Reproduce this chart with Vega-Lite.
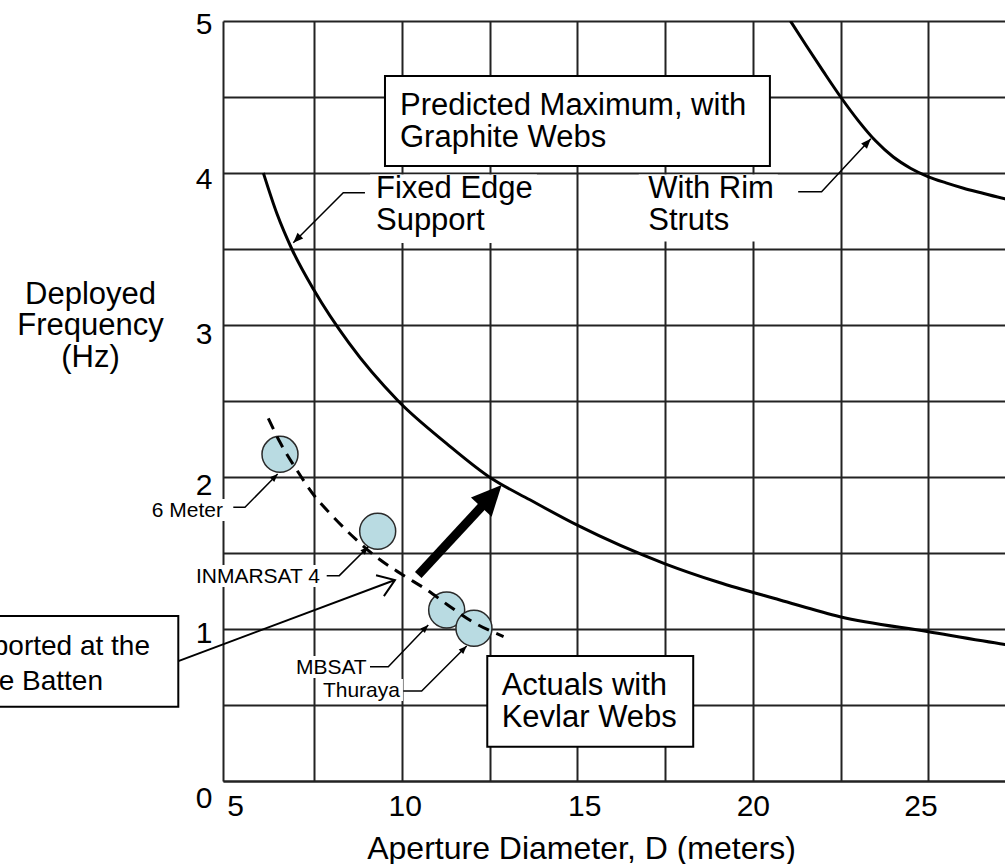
{
  "$schema": "https://vega.github.io/schema/vega-lite/v6.json",
  "width": 782,
  "height": 760,
  "autosize": "none",
  "padding": {"left": 223, "top": 21, "right": 0, "bottom": 83},
  "background": "white",
  "config": {"view": {"stroke": null}, "font": "Liberation Sans"},
  "encoding": {
    "x": {
      "field": "x", "type": "quantitative",
      "scale": {"domain": [4.91, 27.18], "nice": false, "zero": false},
      "axis": {
        "values": [5, 7.5, 10, 12.5, 15, 17.5, 20, 22.5, 25],
        "labelExpr": "datum.value % 5 === 0 ? '' + datum.value : ''",
        "grid": true, "gridColor": "#222222", "gridWidth": 2,
        "gridOpacity": {"condition": {"test": "datum.value === 5", "value": 0}, "value": 1},
        "domainColor": "#222222", "domainWidth": 2,
        "ticks": false, "tickSize": 0,
        "labelFont": "Liberation Sans", "labelFontSize": 30, "labelColor": "black",
        "labelBaseline": "alphabetic", "labelAlign": "center", "labelPadding": 34,
        "labelFlush": false, "labelOverlap": false,
        "labelOffset": {"condition": [
          {"test": "datum.value === 5", "value": 9},
          {"test": "datum.value === 10", "value": 3},
          {"test": "datum.value === 15", "value": 7},
          {"test": "datum.value === 25", "value": -8}
        ], "value": 0},
        "title": "Aperture Diameter, D (meters)",
        "titleFont": "Liberation Sans", "titleFontSize": 32, "titleFontWeight": "normal", "titleColor": "black",
        "titleX": 358, "titleY": 77, "titleBaseline": "alphabetic", "titleAlign": "center",
        "zindex": 0
      }
    },
    "y": {
      "field": "y", "type": "quantitative",
      "scale": {"domain": [0, 5], "nice": false, "zero": false},
      "axis": {
        "values": [0, 0.5, 1, 1.5, 2, 2.5, 3, 3.5, 4, 4.5, 5],
        "labelExpr": "datum.value % 1 === 0 ? '' + datum.value : ''",
        "grid": true, "gridColor": "#222222", "gridWidth": 2,
        "domainColor": "#222222", "domainWidth": 2,
        "ticks": false, "tickSize": 0,
        "labelFont": "Liberation Sans", "labelFontSize": 30, "labelColor": "black",
        "labelBaseline": "alphabetic", "labelAlign": "right", "labelPadding": 11,
        "labelFlush": false, "labelOverlap": false,
        "labelOffset": {"condition": [
          {"test": "datum.value === 0", "value": 26},
          {"test": "datum.value === 1", "value": 13},
          {"test": "datum.value === 2", "value": 17},
          {"test": "datum.value === 3", "value": 18},
          {"test": "datum.value === 4", "value": 15},
          {"test": "datum.value === 5", "value": 12}
        ], "value": 0},
        "title": ["Deployed", "Frequency", "(Hz)"],
        "titleFont": "Liberation Sans", "titleFontSize": 31, "titleFontWeight": "normal", "titleColor": "black",
        "titleAngle": 0, "titleAlign": "center", "titleBaseline": "alphabetic",
        "titleX": -133, "titleY": 282, "titleLineHeight": 31.5,
        "zindex": 0
      }
    }
  },
  "layer": [
    {
      "data": {"values": [
        {"x": 9.10, "x2": 13.85, "y": 3.99, "y2": 3.54},
        {"x": 16.75, "x2": 20.71, "y": 3.99, "y2": 3.55},
        {"x": 2.775, "x2": 4.995, "y": 1.855, "y2": 1.711},
        {"x": 4.0, "x2": 7.76, "y": 1.421, "y2": 1.276},
        {"x": 6.875, "x2": 9.067, "y": 0.822, "y2": 0.678},
        {"x": 7.67, "x2": 10.035, "y": 0.671, "y2": 0.526}
      ]},
      "mark": {"type": "rect", "fill": "white", "strokeWidth": 0},
      "encoding": {"x2": {"field": "x2"}, "y2": {"field": "y2"}}
    },
    {
      "data": {"values": [
        {"x": 9.523, "x2": 20.485, "y": 4.638, "y2": 4.046},
        {"x": 12.436, "x2": 18.301, "y": 0.822, "y2": 0.2257},
        {"x": -5, "x2": 3.637, "y": 1.0855, "y2": 0.4888}
      ]},
      "mark": {"type": "rect", "fill": "white", "stroke": "black", "strokeWidth": 2},
      "encoding": {"x2": {"field": "x2"}, "y2": {"field": "y2"}}
    },
    {
      "data": {"values": [
        {"c": "fixed", "x": 6.06, "y": 4.0},
        {"c": "fixed", "x": 6.45, "y": 3.73},
        {"c": "fixed", "x": 6.87, "y": 3.5},
        {"c": "fixed", "x": 7.5, "y": 3.23},
        {"c": "fixed", "x": 8.5, "y": 2.88},
        {"c": "fixed", "x": 9.9, "y": 2.5},
        {"c": "fixed", "x": 11.28, "y": 2.22},
        {"c": "fixed", "x": 12.56, "y": 1.99},
        {"c": "fixed", "x": 13.65, "y": 1.85},
        {"c": "fixed", "x": 15, "y": 1.683},
        {"c": "fixed", "x": 17.5, "y": 1.429},
        {"c": "fixed", "x": 19, "y": 1.309},
        {"c": "fixed", "x": 20.77, "y": 1.191},
        {"c": "fixed", "x": 22.48, "y": 1.081},
        {"c": "fixed", "x": 25, "y": 0.982},
        {"c": "fixed", "x": 27.18, "y": 0.898},
        {"c": "fixed", "x": 28, "y": 0.87},
        {"c": "rim", "x": 21.07, "y": 5.0},
        {"c": "rim", "x": 21.5, "y": 4.845},
        {"c": "rim", "x": 22.0, "y": 4.67},
        {"c": "rim", "x": 22.5, "y": 4.5},
        {"c": "rim", "x": 23.0, "y": 4.345},
        {"c": "rim", "x": 23.5, "y": 4.21},
        {"c": "rim", "x": 24.0, "y": 4.105},
        {"c": "rim", "x": 24.5, "y": 4.03},
        {"c": "rim", "x": 25.0, "y": 3.975},
        {"c": "rim", "x": 25.5, "y": 3.935},
        {"c": "rim", "x": 26.0, "y": 3.9},
        {"c": "rim", "x": 26.5, "y": 3.87},
        {"c": "rim", "x": 27.18, "y": 3.83},
        {"c": "rim", "x": 28, "y": 3.79}
      ]},
      "mark": {"type": "line", "color": "black", "strokeWidth": 3, "clip": true, "interpolate": "monotone"},
      "encoding": {"detail": {"field": "c"}}
    },
    {
      "data": {"values": [
        {"name": "6 Meter", "x": 6.533, "y": 2.149},
        {"name": "INMARSAT 4", "x": 9.315, "y": 1.643},
        {"name": "MBSAT", "x": 11.28, "y": 1.125},
        {"name": "Thuraya", "x": 12.057, "y": 1.005}
      ]},
      "mark": {"type": "point", "shape": "circle", "filled": true, "fill": "#b9dbe2", "stroke": "#2a2a2a", "strokeWidth": 1.5, "size": 1296, "opacity": 1}
    },
    {
      "data": {"values": [
        {"x": 6.20, "y": 2.386},
        {"x": 6.53, "y": 2.23},
        {"x": 7.0, "y": 2.05},
        {"x": 7.5, "y": 1.88},
        {"x": 8.0, "y": 1.75},
        {"x": 8.6, "y": 1.61},
        {"x": 9.3, "y": 1.47},
        {"x": 10.0, "y": 1.36},
        {"x": 10.7, "y": 1.26},
        {"x": 11.3, "y": 1.16},
        {"x": 12.0, "y": 1.05},
        {"x": 12.9, "y": 0.95}
      ]},
      "mark": {"type": "line", "color": "black", "strokeWidth": 3, "strokeDash": [12, 8], "interpolate": "monotone"},
      "encoding": {}
    },
    {
      "data": {"values": [
        {"x": 10.47, "y": 1.355},
        {"x": 12.458, "y": 1.851}
      ]},
      "mark": {"type": "line", "color": "black", "strokeWidth": 9, "strokeCap": "butt"},
      "encoding": {}
    },
    {
      "data": {"values": [{"x": 12.846, "y": 1.947}]},
      "mark": {"type": "point", "shape": "M0,0 L-1,-0.47 L-1,0.47 Z", "size": 3600, "angle": 312.8, "filled": true, "color": "black", "strokeWidth": 0, "opacity": 1}
    },
    {
      "data": {"values": [
        {"id": "fixed", "o": 1, "x": 8.953, "y": 3.870},
        {"id": "fixed", "o": 2, "x": 8.335, "y": 3.870},
        {"id": "fixed", "o": 3, "x": 6.912, "y": 3.541},
        {"id": "rim", "o": 1, "x": 21.29, "y": 3.877},
        {"id": "rim", "o": 2, "x": 21.957, "y": 3.877},
        {"id": "rim", "o": 3, "x": 23.36, "y": 4.225},
        {"id": "six", "o": 1, "x": 5.203, "y": 1.801},
        {"id": "six", "o": 2, "x": 5.536, "y": 1.801},
        {"id": "six", "o": 3, "x": 6.467, "y": 2.02},
        {"id": "inm", "o": 1, "x": 7.863, "y": 1.351},
        {"id": "inm", "o": 2, "x": 8.222, "y": 1.351},
        {"id": "inm", "o": 3, "x": 9.047, "y": 1.541},
        {"id": "mb", "o": 1, "x": 9.096, "y": 0.752},
        {"id": "mb", "o": 2, "x": 9.617, "y": 0.752},
        {"id": "mb", "o": 3, "x": 10.756, "y": 1.026},
        {"id": "th", "o": 1, "x": 10.044, "y": 0.592},
        {"id": "th", "o": 2, "x": 10.568, "y": 0.592},
        {"id": "th", "o": 3, "x": 11.849, "y": 0.888}
      ]},
      "mark": {"type": "line", "color": "black", "strokeWidth": 1.5},
      "encoding": {"detail": {"field": "id"}, "order": {"field": "o", "type": "quantitative"}}
    },
    {
      "data": {"values": [
        {"x": 3.637, "y": 0.789},
        {"x": 9.807, "y": 1.322}
      ]},
      "mark": {"type": "line", "color": "black", "strokeWidth": 2},
      "encoding": {}
    },
    {
      "data": {"values": [
        {"x": 6.467, "y": 2.02},
        {"x": 9.047, "y": 1.541},
        {"x": 10.756, "y": 1.026},
        {"x": 11.849, "y": 0.888}
      ]},
      "mark": {"type": "point", "shape": "M0,0 L-1,-0.4 L-1,0.4 Z", "size": 256, "angle": 315, "filled": true, "color": "black", "strokeWidth": 0, "opacity": 1}
    },
    {
      "data": {"values": [{"x": 6.912, "y": 3.541}]},
      "mark": {"type": "point", "shape": "M0,0 L-1,-0.4 L-1,0.4 Z", "size": 400, "angle": 135, "filled": true, "color": "black", "strokeWidth": 0, "opacity": 1}
    },
    {
      "data": {"values": [{"x": 23.36, "y": 4.225}]},
      "mark": {"type": "point", "shape": "M0,0 L-1,-0.4 L-1,0.4 Z", "size": 400, "angle": 313, "filled": true, "color": "black", "strokeWidth": 0, "opacity": 1}
    },
    {
      "data": {"values": [{"x": 9.807, "y": 1.322}]},
      "mark": {"type": "point", "shape": "M-1,-0.7 L0,0 L-1,0.7", "size": 1024, "angle": 339.5, "filled": false, "stroke": "black", "strokeWidth": 2, "opacity": 1}
    },
    {
      "data": {"values": [
        {"t": "Predicted Maximum, with\nGraphite Webs", "x": 9.95, "y": 4.382},
        {"t": "Fixed Edge\nSupport", "x": 9.266, "y": 3.838},
        {"t": "With Rim\nStruts", "x": 17.02, "y": 3.836},
        {"t": "Actuals with\nKevlar Webs", "x": 12.846, "y": 0.566}
      ]},
      "mark": {"type": "text", "align": "left", "baseline": "alphabetic", "font": "Liberation Sans", "fontSize": 31, "lineHeight": 32, "lineBreak": "\n", "color": "black"},
      "encoding": {"text": {"field": "t"}}
    },
    {
      "data": {"values": [
        {"t": "Supported at the", "x": 2.831, "y": 0.829},
        {"t": "Base Batten", "x": 1.493, "y": 0.599}
      ]},
      "mark": {"type": "text", "align": "right", "baseline": "alphabetic", "font": "Liberation Sans", "fontSize": 28, "color": "black"},
      "encoding": {"text": {"field": "t"}}
    },
    {
      "data": {"values": [
        {"t": "6 Meter", "x": 4.91, "y": 1.739},
        {"t": "INMARSAT 4", "x": 7.672, "y": 1.30},
        {"t": "MBSAT", "x": 9.002, "y": 0.704},
        {"t": "Thuraya", "x": 9.95, "y": 0.555}
      ]},
      "mark": {"type": "text", "align": "right", "baseline": "alphabetic", "font": "Liberation Sans", "fontSize": 21, "color": "black"},
      "encoding": {"text": {"field": "t"}}
    }
  ]
}
